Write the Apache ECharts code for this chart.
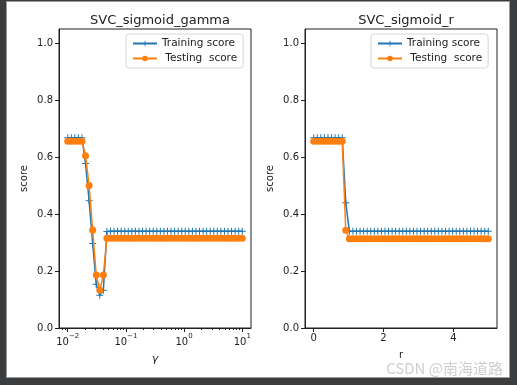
<!DOCTYPE html>
<html>
<head>
<meta charset="utf-8">
<script src="https://cdn.jsdelivr.net/npm/echarts@6/dist/echarts.min.js"></script>
<style>
html,body{margin:0;padding:0;background:#3a3c3e;width:517px;height:385px;overflow:hidden;}
#paper{position:absolute;left:6px;top:1px;width:502px;height:375px;background:#fff;border:1px solid #9a9a9a;}
#chart{position:absolute;left:0;top:0;width:517px;height:385px;}
</style>
</head>
<body>
<div id="paper"></div>
<div id="chart"></div>
<script>
// ---- data ----
const gammaValues = [0.01, 0.011514, 0.013257, 0.015264, 0.017575, 0.020236, 0.0233, 0.026827, 0.030888, 0.035565,
  0.040949, 0.047149, 0.054287, 0.062506, 0.071969, 0.082864, 0.09541, 0.10985, 0.12649, 0.14563,
  0.16768, 0.19307, 0.2223, 0.25595, 0.29471, 0.33932, 0.39069, 0.44984, 0.51795, 0.59636,
  0.68665, 0.7906, 0.9103, 1.0481, 1.2068, 1.3895, 1.5999, 1.8421, 2.121, 2.4421,
  2.8118, 3.2375, 3.7276, 4.2919, 4.9417, 5.6899, 6.5513, 7.5431, 8.6851, 10];
const gammaTrain = [0.668, 0.668, 0.668, 0.668, 0.668, 0.578, 0.447, 0.297, 0.154, 0.115,
  0.133, 0.339, 0.34, 0.34, 0.34, 0.34, 0.34, 0.34, 0.34, 0.34,
  0.34, 0.34, 0.34, 0.34, 0.34, 0.34, 0.34, 0.34, 0.34, 0.34,
  0.34, 0.34, 0.34, 0.34, 0.34, 0.34, 0.34, 0.34, 0.34, 0.34,
  0.34, 0.34, 0.34, 0.34, 0.34, 0.34, 0.34, 0.34, 0.34, 0.34];
const gammaTest = [0.656, 0.656, 0.656, 0.656, 0.656, 0.605, 0.5, 0.344, 0.186, 0.133,
  0.186, 0.315, 0.315, 0.315, 0.315, 0.315, 0.315, 0.315, 0.315, 0.315,
  0.315, 0.315, 0.315, 0.315, 0.315, 0.315, 0.315, 0.315, 0.315, 0.315,
  0.315, 0.315, 0.315, 0.315, 0.315, 0.315, 0.315, 0.315, 0.315, 0.315,
  0.315, 0.315, 0.315, 0.315, 0.315, 0.315, 0.315, 0.315, 0.315, 0.315];
const rValues = [0, 0.102, 0.204, 0.306, 0.408, 0.51, 0.612, 0.714, 0.816, 0.918,
  1.02, 1.122, 1.224, 1.327, 1.429, 1.531, 1.633, 1.735, 1.837, 1.939,
  2.041, 2.143, 2.245, 2.347, 2.449, 2.551, 2.653, 2.755, 2.857, 2.959,
  3.061, 3.163, 3.265, 3.367, 3.469, 3.571, 3.673, 3.776, 3.878, 3.98,
  4.082, 4.184, 4.286, 4.388, 4.49, 4.592, 4.694, 4.796, 4.898, 5];
const rTrain = [0.668, 0.668, 0.668, 0.668, 0.668, 0.668, 0.668, 0.668, 0.668, 0.44,
  0.34, 0.34, 0.34, 0.34, 0.34, 0.34, 0.34, 0.34, 0.34, 0.34,
  0.34, 0.34, 0.34, 0.34, 0.34, 0.34, 0.34, 0.34, 0.34, 0.34,
  0.34, 0.34, 0.34, 0.34, 0.34, 0.34, 0.34, 0.34, 0.34, 0.34,
  0.34, 0.34, 0.34, 0.34, 0.34, 0.34, 0.34, 0.34, 0.34, 0.34];
const rTest = [0.656, 0.656, 0.656, 0.656, 0.656, 0.656, 0.656, 0.656, 0.656, 0.343,
  0.313, 0.313, 0.313, 0.313, 0.313, 0.313, 0.313, 0.313, 0.313, 0.313,
  0.313, 0.313, 0.313, 0.313, 0.313, 0.313, 0.313, 0.313, 0.313, 0.313,
  0.313, 0.313, 0.313, 0.313, 0.313, 0.313, 0.313, 0.313, 0.313, 0.313,
  0.313, 0.313, 0.313, 0.313, 0.313, 0.313, 0.313, 0.313, 0.313, 0.313];
const yTicks = [0, 0.2, 0.4, 0.6, 0.8, 1.0];
const gammaTicks = [0.01, 0.1, 1, 10];
const gammaMinorTicks = [0.008, 0.009, 0.02, 0.03, 0.04, 0.05, 0.06, 0.07, 0.08, 0.09,
  0.2, 0.3, 0.4, 0.5, 0.6, 0.7, 0.8, 0.9, 2, 3, 4, 5, 6, 7, 8, 9];
const rTicks = [0, 2, 4];
const titles = ['SVC_sigmoid_gamma', 'SVC_sigmoid_r'];
const seriesNames = ['Training score', ' Testing  score'];

// ---- chart ----
const FONT = 'DejaVu Sans';
const BLUE = '#1f77b4', ORANGE = '#ff7f0e', INK = '#222';
const plus = 'path://M3,0H4V3H7V4H4V7H3V4H0V3H3Z';
const pair = (xs, ys) => xs.map((x, i) => [x, ys[i]]);

function yAxisOf(gridIndex) {
  return {
    type: 'value', gridIndex, min: 0, max: 1.05, position: 'left',
    name: 'score', nameLocation: 'middle', nameGap: 30,
    nameTextStyle: {fontFamily: FONT, fontSize: 10, color: INK},
    axisLine: {show: true, onZero: false, lineStyle: {color: INK, width: 1}},
    axisTick: {show: true, length: 4, lineStyle: {color: INK}, customValues: yTicks},
    axisLabel: {fontFamily: FONT, fontSize: 10, color: INK, margin: 6, customValues: yTicks,
      formatter: v => v.toFixed(1)},
    splitLine: {show: false}
  };
}

const option = {
  animation: false,
  textStyle: {fontFamily: FONT},
  title: titles.map((t, i) => ({
    text: t, left: i === 0 ? 155 : 401, top: 9, textAlign: 'center',
    textStyle: {fontFamily: FONT, fontSize: 13, fontWeight: 'normal', color: INK}
  })),
  legend: [0, 1].map(i => ({
    data: seriesNames, orient: 'vertical',
    left: i === 0 ? 126 : 371, top: 34,
    padding: [4, 6, 4, 6], itemGap: 4, itemWidth: 24, itemHeight: 7,
    backgroundColor: '#fff', borderColor: '#d6d6d6', borderWidth: 1, borderRadius: 3,
    textStyle: {fontFamily: FONT, fontSize: 10.5, color: INK},
    selectedMode: false
  })),
  grid: [
    {left: 59, top: 29, width: 192, height: 299, show: true, borderColor: INK, borderWidth: 1, backgroundColor: 'transparent'},
    {left: 305, top: 29, width: 192, height: 299, show: true, borderColor: INK, borderWidth: 1, backgroundColor: 'transparent'}
  ],
  xAxis: [
    {
      type: 'log', gridIndex: 0, position: 'bottom', min: Math.pow(10, -2.15), max: Math.pow(10, 1.15), logBase: 10,
      name: 'γ', nameLocation: 'middle', nameGap: 26,
      nameTextStyle: {fontFamily: FONT, fontSize: 11, fontStyle: 'italic', color: INK},
      axisLine: {show: true, onZero: false, lineStyle: {color: INK, width: 1}},
      axisTick: {show: true, length: 4, lineStyle: {color: INK}, customValues: gammaTicks},
      axisLabel: {
        customValues: gammaTicks, margin: 5, color: INK,
        formatter: v => {
          const e = Math.round(Math.log10(v));
          const es = String(e).replace('-', '\u2212');
          return '{b|10}{s|' + es + '}';
        },
        rich: {
          b: {fontFamily: FONT, fontSize: 10, color: INK, verticalAlign: 'bottom', lineHeight: 14},
          s: {fontFamily: FONT, fontSize: 7, color: INK, verticalAlign: 'top', lineHeight: 14}
        }
      },
      splitLine: {show: false}
    },
    {
      type: 'log', gridIndex: 0, position: 'bottom', offset: 0, min: Math.pow(10, -2.15), max: Math.pow(10, 1.15), logBase: 10,
      axisLine: {show: false, onZero: false},
      axisTick: {show: true, length: 2, lineStyle: {color: INK}, customValues: gammaMinorTicks},
      axisLabel: {show: false},
      splitLine: {show: false}
    },
    {
      type: 'value', gridIndex: 1, position: 'bottom', min: -0.25, max: 5.25,
      name: 'r', nameLocation: 'middle', nameGap: 22,
      nameTextStyle: {fontFamily: FONT, fontSize: 10, color: INK},
      axisLine: {show: true, onZero: false, lineStyle: {color: INK, width: 1}},
      axisTick: {show: true, length: 4, lineStyle: {color: INK}, customValues: rTicks},
      axisLabel: {fontFamily: FONT, fontSize: 10, color: INK, margin: 5, customValues: rTicks},
      splitLine: {show: false}
    }
  ],
  yAxis: [yAxisOf(0), yAxisOf(1)],
  series: [
    {name: seriesNames[0], type: 'line', xAxisIndex: 0, yAxisIndex: 0, data: pair(gammaValues, gammaTrain),
     symbol: plus, symbolSize: 7, showAllSymbol: true, color: BLUE,
     lineStyle: {color: BLUE, width: 1.5}, itemStyle: {color: BLUE}, z: 2},
    {name: seriesNames[1], type: 'line', xAxisIndex: 0, yAxisIndex: 0, data: pair(gammaValues, gammaTest),
     symbol: 'circle', symbolSize: 7, showAllSymbol: true, color: ORANGE,
     lineStyle: {color: ORANGE, width: 1.5}, itemStyle: {color: ORANGE}, z: 3},
    {name: seriesNames[0], type: 'line', xAxisIndex: 2, yAxisIndex: 1, data: pair(rValues, rTrain),
     symbol: plus, symbolSize: 7, showAllSymbol: true, color: BLUE,
     lineStyle: {color: BLUE, width: 1.5}, itemStyle: {color: BLUE}, z: 2},
    {name: seriesNames[1], type: 'line', xAxisIndex: 2, yAxisIndex: 1, data: pair(rValues, rTest),
     symbol: 'circle', symbolSize: 7, showAllSymbol: true, color: ORANGE,
     lineStyle: {color: ORANGE, width: 1.5}, itemStyle: {color: ORANGE}, z: 3}
  ],
  graphic: [{
    type: 'text', right: 14, top: 361,
    style: {text: 'CSDN @南海道路', fontFamily: 'Noto Sans CJK SC', fontSize: 15, fill: 'rgba(160,160,160,0.5)'}
  }]
};

const chart = echarts.init(document.getElementById('chart'), null, {renderer: 'canvas'});
chart.setOption(option);
</script>
</body>
</html>
